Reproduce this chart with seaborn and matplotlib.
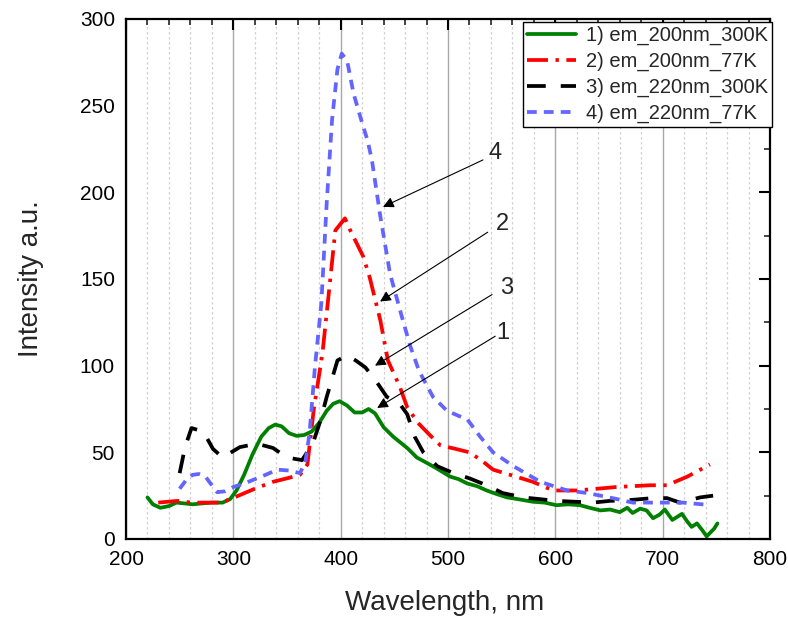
import matplotlib
matplotlib.use("Agg")
import matplotlib.pyplot as plt
from matplotlib.ticker import MultipleLocator
import seaborn as sns
import numpy as np
import pandas as pd

# ---------------- data ----------------
x_green = [220, 225, 232, 240, 247, 255, 262, 270, 280, 290, 297, 303, 310, 318, 326, 333, 339, 345,
           352, 359, 366, 373, 380, 387, 393, 399, 406, 413, 420, 426, 432, 440, 449, 462, 471, 480,
           490, 502, 510, 518, 527, 536, 545, 555, 565, 579, 590, 601, 612, 623, 632, 642, 651, 660,
           667, 672, 679, 685, 691, 697, 702, 709, 718, 723, 727, 732, 737, 741, 748, 751]
y_green = [24, 20, 18, 19, 21, 20.5, 20, 20.5, 21, 21, 23, 28, 37, 49, 59, 64, 66, 65,
           61, 59.5, 60, 62, 67, 74, 78, 79.5, 77, 73, 73, 75, 72.5, 64.5, 59, 52.5, 47, 44,
           40.5, 36, 34.5, 32, 30.5, 28, 26, 24, 23, 21.5, 21, 19.5, 20, 19.5, 18, 16.5, 17, 15.5,
           18, 15, 17.5, 16.5, 12, 14, 17, 11, 14.5, 10, 7, 9, 5, 1.5, 6, 9]

x_red = [230, 248, 261, 289, 301, 320, 337, 350, 362, 369, 375, 383, 390, 395, 404, 409, 421, 427,
         437, 444, 455, 462, 472, 483, 493, 507, 520, 532, 542, 558, 579, 598, 620, 639, 657, 688,
         704, 723, 744]
y_red = [21, 22, 21, 21, 24, 29, 33, 35, 37, 43, 75, 107, 148, 178, 185, 178, 163, 151,
         126, 103, 88, 76, 67, 60, 54, 52, 50, 45, 40, 37, 33, 28, 28, 29, 30, 31,
         31, 36, 43]

x_black = [250, 255, 261, 272, 281, 290, 306, 322, 337, 350, 364, 374, 381, 387, 397, 406, 414, 423,
           432, 443, 455, 462, 469, 477, 490, 505, 520, 536, 551, 570, 601, 635, 651, 670, 691, 704,
           716, 735, 747]
y_black = [38, 53, 64, 62, 52, 47, 53, 55, 52.5, 47, 45.5, 55, 68, 82, 103, 106, 103, 99,
           92, 82, 78, 72, 59, 50, 42, 38, 35, 31, 26.5, 24, 22, 21, 22, 22.5, 23.6, 23.6,
           21, 24, 25]

x_blue = [250, 256, 262, 268, 274, 280, 285, 292, 300, 310, 318, 330, 341, 352, 362, 367, 371, 376,
          382, 387, 392, 397, 401, 406, 412, 420, 425, 429, 437, 446, 458, 465, 473, 486, 499, 510,
          518, 530, 542, 561, 586, 611, 630, 654, 672, 698, 719, 744]
y_blue = [29, 34, 37, 37.5, 36, 31, 27, 27.5, 30, 32, 34, 37, 40, 39.5, 38, 44, 61, 99,
          136, 194, 242, 271, 280, 276, 257, 240, 230, 219, 186, 153, 126, 111, 97, 82, 74, 71,
          69, 59, 50, 42, 33, 28, 26.5, 23.5, 21, 21, 21, 19.6]

series_labels = ["1) em_200nm_300K", "2) em_200nm_77K", "3) em_220nm_300K", "4) em_220nm_77K"]
x_ticks = [200, 300, 400, 500, 600, 700, 800]
y_ticks = [0, 50, 100, 150, 200, 250, 300]

annot_labels = ["4", "2", "3", "1"]
annot_text_xy = [(543.8, 222.7), (551, 182), (555, 145), (551, 119)]
annot_start_xy = [(532.6, 218.7), (537, 177), (541, 141), (544, 117)]
annot_tip_xy = [(439.4, 191.6), (436.7, 137), (432, 100), (434, 75.6)]

# ---------------- style ----------------
sns.set_style("white")
plt.rcParams["font.family"] = ["Liberation Sans", "DejaVu Sans"]

fig = plt.figure(figsize=(7.88, 6.18), dpi=100)
ax = fig.add_axes([126 / 788, 1 - 539 / 618, 644 / 788, 520 / 618])

styles = [
    dict(color="#008000", linestyle="-"),
    dict(color="#ff0000", linestyle=(0, (5.6, 2.0, 0.9, 2.0))),
    dict(color="#000000", linestyle=(0, (5.0, 4.0))),
    dict(color="#6464ff", linestyle=(0, (2.6, 1.9))),
]
xs = [x_green, x_red, x_black, x_blue]
ys = [y_green, y_red, y_black, y_blue]

for xv, yv, lab, st in zip(xs, ys, series_labels, styles):
    df = pd.DataFrame({"x": xv, "y": yv})
    sns.lineplot(data=df, x="x", y="y", ax=ax, label=lab, lw=2.7, errorbar=None,
                 sort=False, **st)

ax.set_xlim(200, 800)
ax.set_ylim(0, 300)
ax.set_xticks(x_ticks)
ax.set_yticks(y_ticks)
ax.xaxis.set_minor_locator(MultipleLocator(20))
ax.yaxis.set_minor_locator(MultipleLocator(25))

ax.grid(which="major", axis="x", color="#a8a8a8", lw=1.0, ls="-")
ax.grid(which="minor", axis="x", color="#d2d2d2", lw=0.9, ls=(0, (2, 2)))
ax.grid(which="major", axis="y", visible=False)
ax.set_axisbelow(True)

for sp in ax.spines.values():
    sp.set_linewidth(1.6)
    sp.set_color("black")

ax.tick_params(which="major", direction="in", length=8, width=1.5, top=True, right=True,
               labelsize=15, colors="black")
ax.tick_params(which="minor", direction="in", length=4, width=1.2, top=True, right=True)
ax.tick_params(axis="x", which="major", pad=8)
ax.tick_params(axis="y", which="major", pad=8)

ax.set_xlabel("Wavelength, nm", fontsize=20)
ax.set_ylabel("Intensity a.u.", fontsize=20)
ax.xaxis.label.set_va("center")
ax.yaxis.label.set_va("center")
ax.xaxis.set_label_coords(0.494, -0.123)
ax.yaxis.set_label_coords(-0.147, 0.5)

for lab, txy, sxy, pxy in zip(annot_labels, annot_text_xy, annot_start_xy, annot_tip_xy):
    ax.text(txy[0], txy[1], lab, fontsize=17, ha="center", va="center")
    ax.annotate("", xy=pxy, xytext=sxy,
                arrowprops=dict(arrowstyle="-|>", color="black", lw=0.8,
                                mutation_scale=16, shrinkA=0, shrinkB=0))

leg = ax.legend(loc="upper right", bbox_to_anchor=(772 / 788, 1 - 22 / 618),
                bbox_transform=fig.transFigure, fontsize=14.5, frameon=True, fancybox=False,
                framealpha=1, edgecolor="black", handlelength=2.4, handletextpad=0.5,
                labelspacing=0.33, borderpad=0.2, borderaxespad=0)
leg.get_frame().set_linewidth(1.0)

fig.savefig("out.png", dpi=100)
